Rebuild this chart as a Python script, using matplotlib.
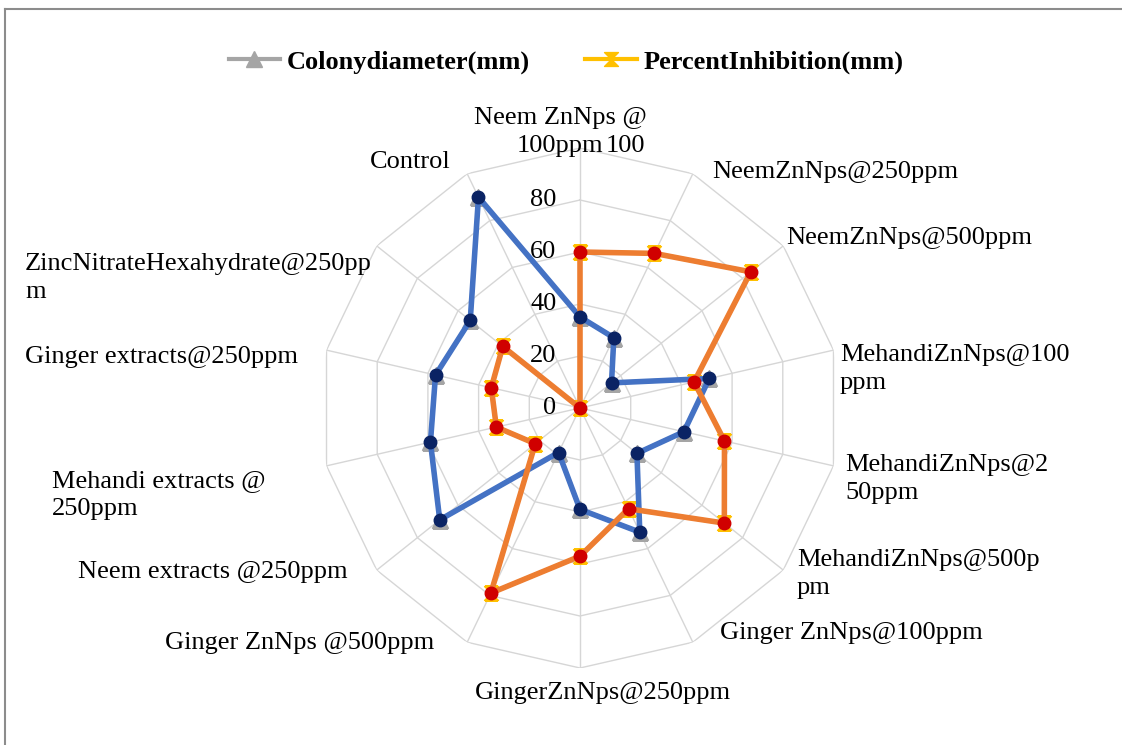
import numpy as np
import matplotlib
matplotlib.use("Agg")
import matplotlib.pyplot as plt
from matplotlib.path import Path
from matplotlib.lines import Line2D

plt.rcParams['font.family'] = ['Liberation Serif', 'DejaVu Serif']

categories = [
    "Neem ZnNps @\n100ppm", "NeemZnNps@250ppm", "NeemZnNps@500ppm",
    "MehandiZnNps@100\nppm", "MehandiZnNps@2\n50ppm", "MehandiZnNps@500p\npm",
    "Ginger ZnNps@100ppm", "GingerZnNps@250ppm", "Ginger ZnNps @500ppm",
    "Neem extracts @250ppm", "Mehandi extracts @\n250ppm",
    "Ginger extracts@250ppm", "ZincNitrateHexahydrate@250pp\nm", "Control",
]
colony_diameter = [35, 30, 15.5, 51, 41, 28, 53, 39, 19, 69, 59, 57, 54, 90]
percent_inhibition = [60, 66, 84, 45, 57, 71, 43, 57, 79, 22, 33, 35, 38, 0]
ring_ticks = [0, 20, 40, 60, 80, 100]

W, H = 1122, 745
fig = plt.figure(figsize=(W / 100, H / 100), dpi=100)

# chart area: centre (580, 408) px, outer ring radius 260 px
cx, cy, R = 580, 408, 260
ax = fig.add_axes([(cx - R) / W, (H - cy - R) / H, 2 * R / W, 2 * R / H],
                  projection='polar')
ax.set_theta_offset(np.pi / 2)
ax.set_theta_direction(-1)
ax.set_ylim(0, 100)
ax.grid(False)
ax.spines['polar'].set_visible(False)
ax.set_xticks([])
ax.set_yticks([])
ax.patch.set_alpha(0)

n = len(categories)
theta = np.arange(n) * 2 * np.pi / n
theta_closed = np.append(theta, theta[0])

grid_col = '#D6D6D6'
for level in ring_ticks[1:]:
    ax.plot(theta_closed, [level] * (n + 1), color=grid_col, lw=1.0, zorder=1)
for t in theta:
    ax.plot([t, t], [0, 100], color=grid_col, lw=1.0, zorder=1)

# hourglass marker for the inhibition series
hg = Path([(-1, 1), (1, 1), (0, 0), (-1, 1), (-1, -1), (1, -1), (0, 0), (-1, -1)],
          [Path.MOVETO, Path.LINETO, Path.LINETO, Path.CLOSEPOLY] * 2)

cd_closed = colony_diameter + colony_diameter[:1]
pi_closed = percent_inhibition + percent_inhibition[:1]

h1, = ax.plot(theta_closed, cd_closed, color='#A5A5A5', lw=3, marker='^',
              markersize=11, markerfacecolor='#A5A5A5', markeredgecolor='#A5A5A5',
              zorder=3, label='Colonydiameter(mm)')
ax.plot(theta_closed, cd_closed, color='#4472C4', lw=4, zorder=4)
ax.plot(theta, colony_diameter, ls='none', marker='o', markersize=9,
        markerfacecolor='#0A2364', markeredgecolor='#0A2364', zorder=5)

h2, = ax.plot(theta_closed, pi_closed, color='#FFC000', lw=3, marker=hg,
              markersize=10, markerfacecolor='#FFC000', markeredgecolor='#FFC000',
              zorder=3, label='PercentInhibition(mm)')
ax.plot(theta_closed, pi_closed, color='#ED7D31', lw=4, zorder=4)
ax.plot(theta, percent_inhibition, ls='none', marker='o', markersize=9,
        markerfacecolor='#D00000', markeredgecolor='#D00000', zorder=5)

fs = 19
# ring values along the top spoke
for v in ring_ticks[:-1]:
    ax.annotate(str(v), xy=(0, v), xytext=(-17, 0), textcoords='offset points',
                ha='right', va='center', fontsize=fs, zorder=6)
fig.text(606 / W, 1 - 146 / H, str(ring_ticks[-1]), ha='left', va='center',
         fontsize=fs)

# category labels (x, y centre in pixels, horizontal alignment); wrapped
# labels are laid out one line at a time
label_pos = [
    (560, 132, 'center'), (712, 172, 'left'), (786, 238, 'left'),
    (840, 369, 'left'), (845, 479, 'left'), (797, 574, 'left'),
    (720, 633, 'left'), (475, 693, 'left'), (165, 643, 'left'),
    (78, 572, 'left'), (52, 495, 'left'), (25, 357, 'left'),
    (25, 278, 'left'), (370, 162, 'left'),
]
line_step = 28
for lab, (x, y, ha) in zip(categories, label_pos):
    lines = lab.split('\n')
    k = len(lines)
    for i, line in enumerate(lines):
        yy = y + (i - (k - 1) / 2) * line_step
        fig.text(x / W, 1 - yy / H, line, ha=ha, va='center', fontsize=fs)

fig.legend(handles=[h1, h2], loc='center', bbox_to_anchor=(566 / W, 1 - 62 / H),
           ncol=2, frameon=False, handlelength=1.95, handletextpad=0.25,
           columnspacing=2.1, prop={'weight': 'bold', 'size': fs})

# frame edges
fig.add_artist(Line2D([5 / W, 1], [1 - 9 / H, 1 - 9 / H], color='#8C8C8C', lw=1.5,
                      transform=fig.transFigure))
fig.add_artist(Line2D([5 / W, 5 / W], [0, 1 - 9 / H], color='#8C8C8C', lw=1.5,
                      transform=fig.transFigure))

fig.savefig('out.png', dpi=100, facecolor='white')
